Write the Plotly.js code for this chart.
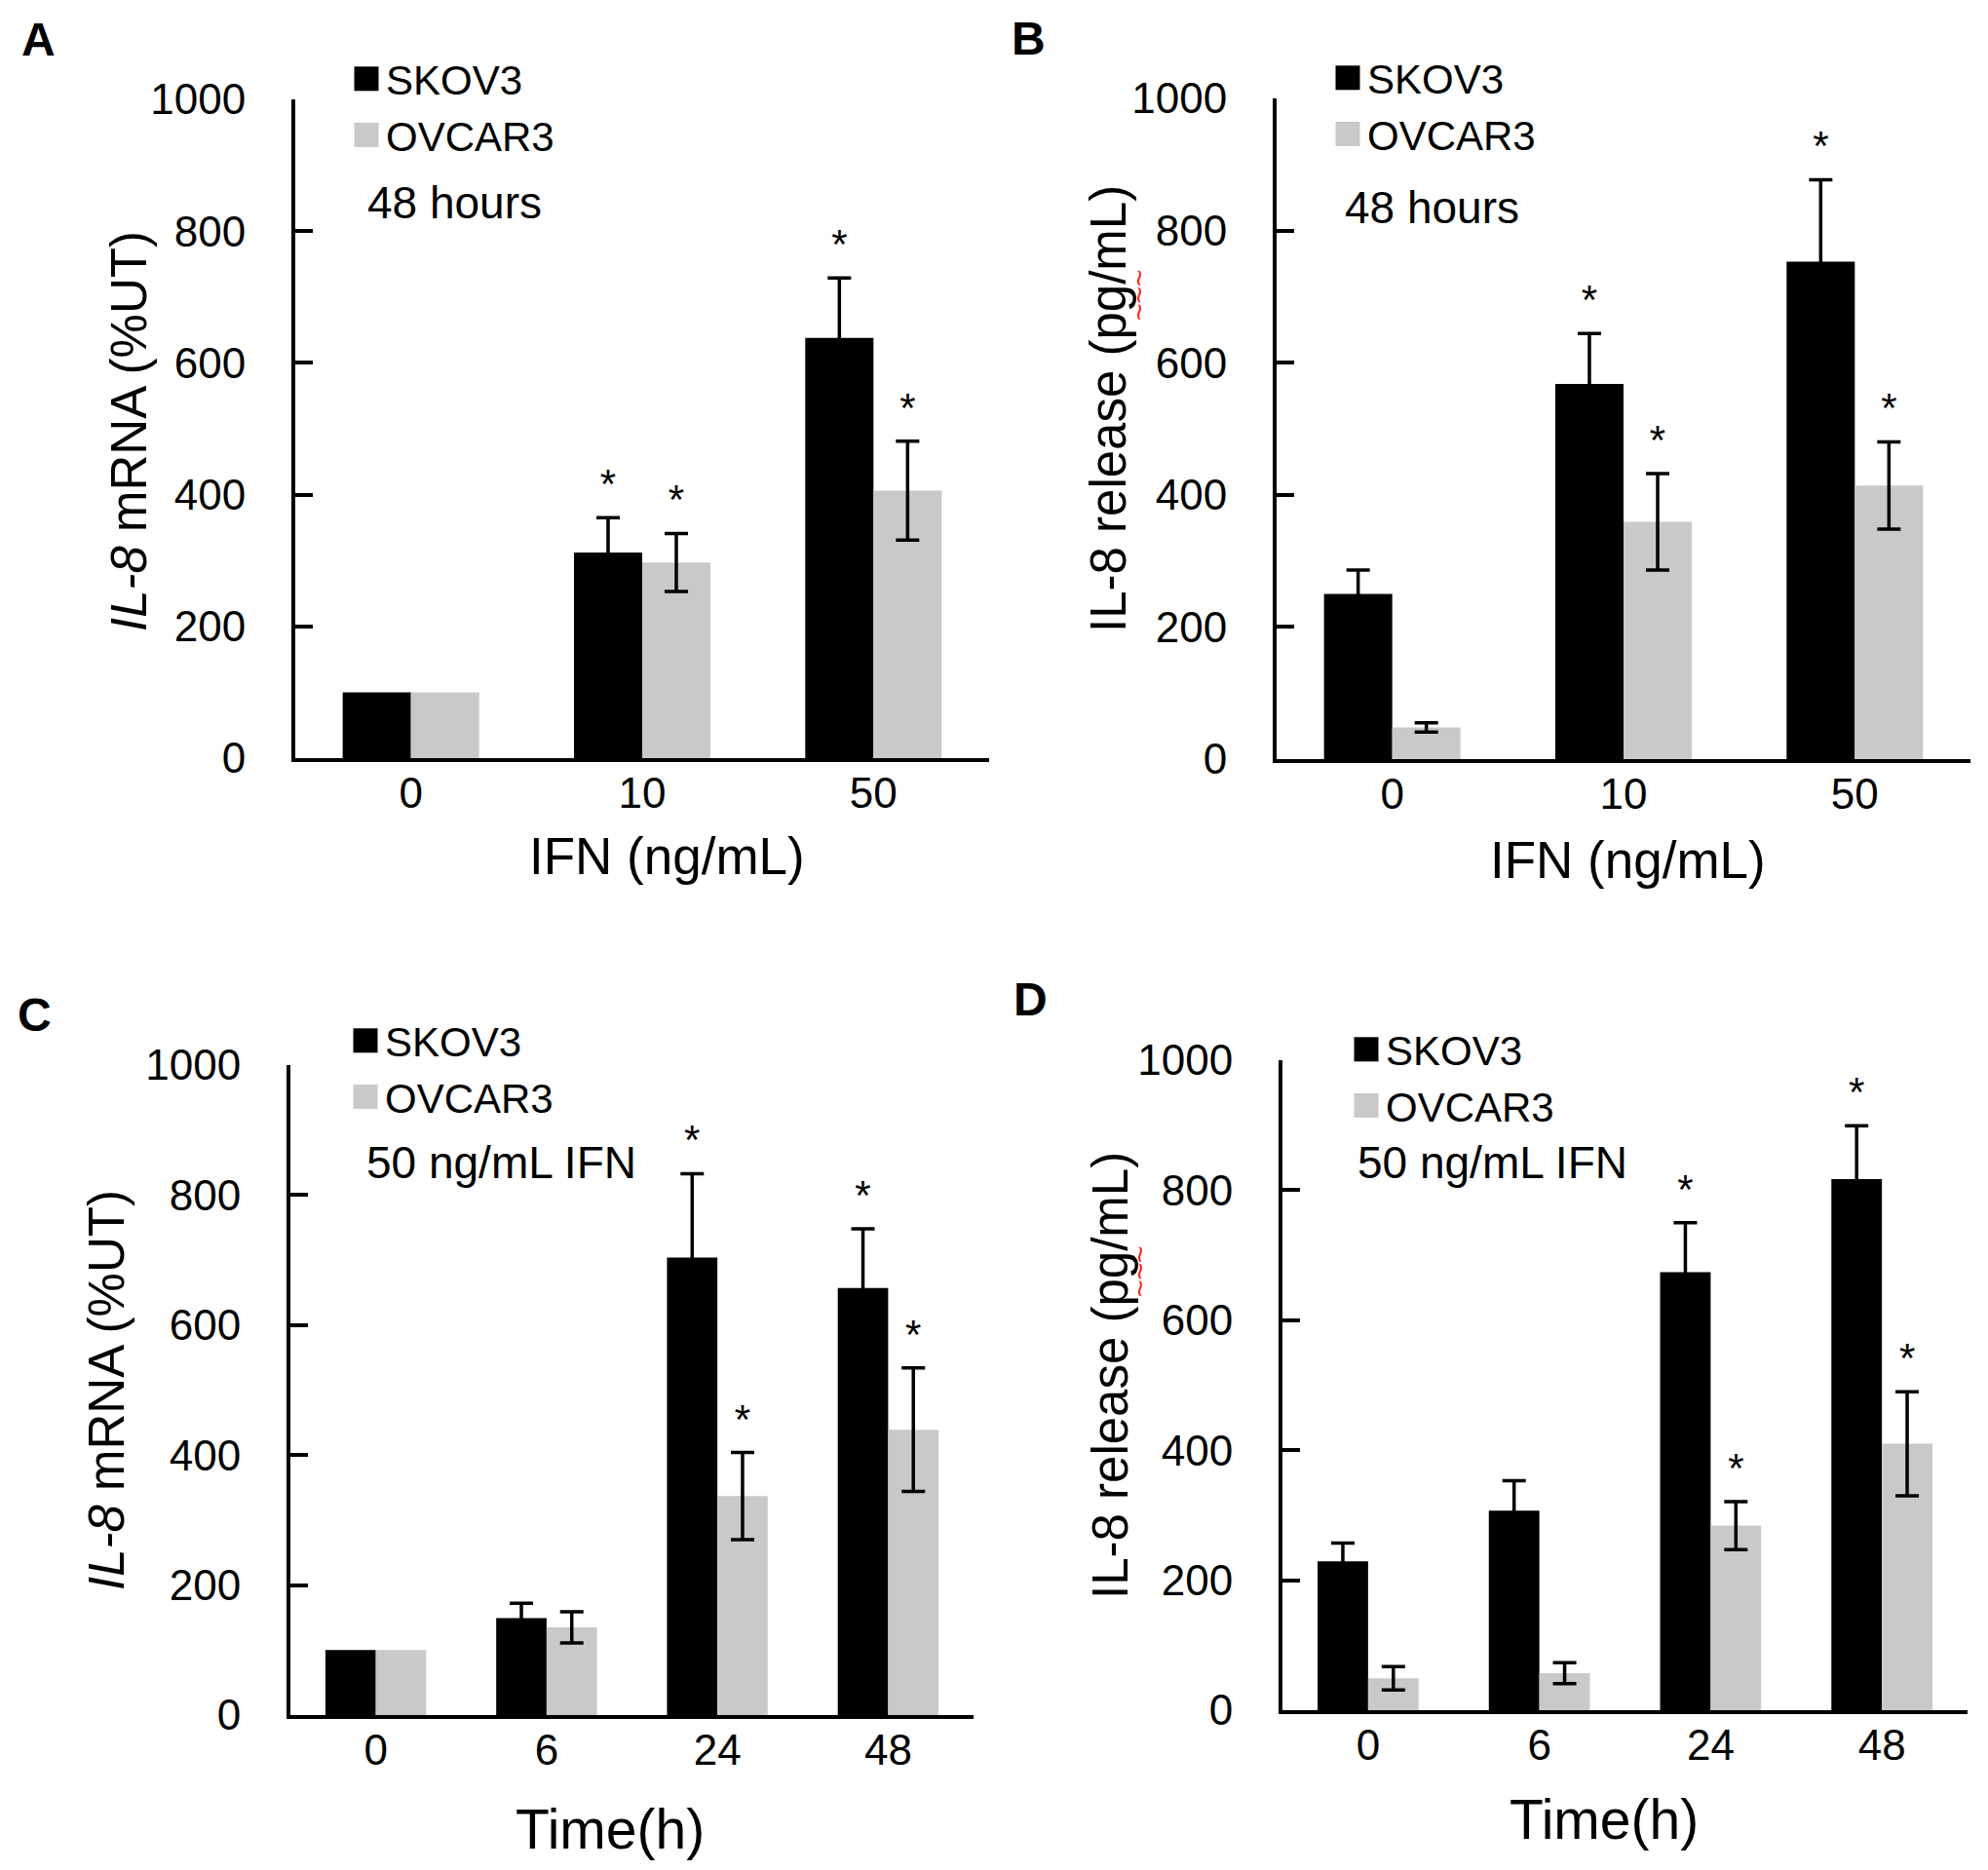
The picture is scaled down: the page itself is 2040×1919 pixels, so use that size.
<!DOCTYPE html>
<html><head><meta charset="utf-8">
<script src="https://cdn.plot.ly/plotly-3.0.1.min.js"></script>
<style>
body{margin:0;background:#fff}
#chart{width:2040px;height:1919px}
/* legend swatches drawn as the larger squares used in the figure */
#chart g.legendpoints path{d:path('M12.5,12.5H-12.5V-12.5H12.5Z');}
</style>
</head><body><div id="chart"></div>
<script>
// ---- data ----
const doseCats = ['0', '10', '50'];
const timeCats = ['0', '6', '24', '48'];
const seriesNames = ['SKOV3', 'OVCAR3'];
const yTicks = [0, 200, 400, 600, 800, 1000];

// Panel A: IL-8 mRNA (%UT), 48 hours, by IFN dose
const aSkov = [100, 312, 638];
const aSkovErr = [null, 53, 91];
const aOvcar = [100, 297, 406];
const aOvcarErr = [null, 44, 75];
const aSkovSig = [false, true, true];
const aOvcarSig = [false, true, true];

// Panel B: IL-8 release (pg/mL), 48 hours, by IFN dose
const bSkov = [250, 568, 753];
const bSkovErr = [36, 76, 124];
const bOvcar = [48, 359, 414];
const bOvcarErr = [7, 73, 66];
const bSkovSig = [false, true, true];
const bOvcarSig = [false, true, true];

// Panel C: IL-8 mRNA (%UT), 50 ng/mL IFN, by time
const cSkov = [100, 149, 704, 657];
const cSkovErr = [null, 23, 129, 91];
const cOvcar = [100, 135, 337, 439];
const cOvcarErr = [null, 24, 67, 95];
const cSkovSig = [false, false, true, true];
const cOvcarSig = [false, false, true, true];

// Panel D: IL-8 release (pg/mL), 50 ng/mL IFN, by time
const dSkov = [229, 307, 674, 817];
const dSkovErr = [28, 46, 76, 82];
const dOvcar = [49, 57, 284, 410];
const dOvcarErr = [18, 16, 37, 80];
const dSkovSig = [false, false, true, true];
const dOvcarSig = [false, false, true, true];

// ---- styling ----
const FONT = 'Liberation Sans, Arial, sans-serif';
const COLORS = ['#000000', '#c9c9c9'];
const STAR_GAP = 12; // gap (data units) between error-bar top and asterisk box
const W = 2040, H = 1919;
const px = v => v / W;
const py = v => 1 - v / H;

function panelTraces(cats, series, xa, ya, legendId) {
  const traces = [];
  series.forEach((s, k) => {
    traces.push({
      type: 'bar', x: cats, y: s.vals, name: seriesNames[k],
      marker: {color: COLORS[k], line: {width: 0}},
      error_y: {type: 'data', array: s.errs.map(e => e == null ? NaN : e), visible: true,
                color: '#000', thickness: 3.5, width: 12},
      xaxis: xa, yaxis: ya, offsetgroup: 'g' + k, legend: legendId,
      cliponaxis: false, hoverinfo: 'x+y'
    });
  });
  series.forEach((s, k) => {
    traces.push({
      type: 'bar', x: cats, y: s.vals.map((v, i) => v + (s.errs[i] || 0) + STAR_GAP),
      text: s.sig.map(f => f ? '*' : ''), textposition: 'outside',
      textfont: {size: 42, color: '#000', family: FONT}, constraintext: 'none',
      marker: {color: 'rgba(0,0,0,0)', line: {width: 0}},
      xaxis: xa, yaxis: ya, offsetgroup: 'g' + k, showlegend: false,
      hoverinfo: 'skip', cliponaxis: false
    });
  });
  return traces;
}

const data = [].concat(
  panelTraces(doseCats, [{vals: aSkov, errs: aSkovErr, sig: aSkovSig}, {vals: aOvcar, errs: aOvcarErr, sig: aOvcarSig}], 'x', 'y', 'legend'),
  panelTraces(doseCats, [{vals: bSkov, errs: bSkovErr, sig: bSkovSig}, {vals: bOvcar, errs: bOvcarErr, sig: bOvcarSig}], 'x2', 'y2', 'legend2'),
  panelTraces(timeCats, [{vals: cSkov, errs: cSkovErr, sig: cSkovSig}, {vals: cOvcar, errs: cOvcarErr, sig: cOvcarSig}], 'x3', 'y3', 'legend3'),
  panelTraces(timeCats, [{vals: dSkov, errs: dSkovErr, sig: dSkovSig}, {vals: dOvcar, errs: dOvcarErr, sig: dOvcarSig}], 'x4', 'y4', 'legend4')
);

function xAxis(x0, x1, anchor, n) {
  return {domain: [px(x0), px(x1)], anchor: anchor, type: 'category', range: [-0.5, n - 0.5],
    showline: true, linewidth: 4, linecolor: '#000', ticks: '', showgrid: false, zeroline: false,
    tickfont: {size: 44, color: '#000', family: FONT}, ticklabelstandoff: -6, fixedrange: true};
}
function yAxis(top, bottom, anchor) {
  return {domain: [py(bottom), py(top)], anchor: anchor, range: [0, 1000], tickvals: yTicks,
    ticks: 'inside', ticklen: 18, tickwidth: 4, tickcolor: '#000',
    showline: true, linewidth: 4, linecolor: '#000', showgrid: false, zeroline: false,
    tickfont: {size: 44, color: '#000', family: FONT}, ticklabelstandoff: 38, fixedrange: true};
}
function legendAt(x, y) {
  return {x: px(x), y: py(y), xanchor: 'left', yanchor: 'top', font: {size: 42, color: '#000', family: FONT},
    bgcolor: 'rgba(0,0,0,0)', traceorder: 'normal', itemclick: false, itemdoubleclick: false};
}
function note(text, x, y, opts) {
  return Object.assign({text: text, x: px(x), y: py(y), xref: 'paper', yref: 'paper', showarrow: false,
    font: {size: 46, color: '#000', family: FONT}, xanchor: 'left', yanchor: 'middle'}, opts || {});
}
const titleFont = s => ({size: s, color: '#000', family: FONT});

const layout = {
  width: W, height: H, margin: {l: 0, r: 0, t: 0, b: 0},
  paper_bgcolor: '#fff', plot_bgcolor: 'rgba(0,0,0,0)',
  font: {family: FONT, color: '#000'},
  barmode: 'group', bargap: 0.41, bargroupgap: 0,
  xaxis: xAxis(303, 1015, 'y', doseCats.length),
  yaxis: yAxis(102, 778, 'x'),
  xaxis2: xAxis(1310, 2022, 'y2', doseCats.length),
  yaxis2: yAxis(101, 779, 'x2'),
  xaxis3: xAxis(298, 999, 'y3', timeCats.length),
  yaxis3: yAxis(1093, 1760, 'x3'),
  xaxis4: xAxis(1316, 2019, 'y4', timeCats.length),
  yaxis4: yAxis(1088, 1755, 'x4'),
  legend: legendAt(356, 47),
  legend2: legendAt(1363, 46),
  legend3: legendAt(355, 1034),
  legend4: legendAt(1382, 1043),
  annotations: [
    note('<b>A</b>', 20, 41, {font: titleFont(48)}),
    note('<b>B</b>', 1036, 39, {font: titleFont(48)}),
    note('<b>C</b>', 16, 1041, {font: titleFont(48)}),
    note('<b>D</b>', 1038, 1025, {font: titleFont(48)}),
    note('48 hours', 375, 208),
    note('48 hours', 1378, 213),
    note('50 ng/mL IFN', 374, 1193),
    note('50 ng/mL IFN', 1391, 1193),
    note('IFN (ng/mL)', 684, 878, {xanchor: 'center', font: titleFont(53)}),
    note('IFN (ng/mL)', 1670, 882, {xanchor: 'center', font: titleFont(53)}),
    note('Time(h)', 626, 1877, {xanchor: 'center', font: titleFont(57)}),
    note('Time(h)', 1646, 1867, {xanchor: 'center', font: titleFont(57)}),
    note('<i>IL-8</i> mRNA (%UT)', 132, 443, {xanchor: 'center', textangle: -90, font: titleFont(51)}),
    note('IL-8 release (pg/mL)', 1138, 420, {xanchor: 'center', textangle: -90, font: titleFont(51)}),
    note('<i>IL-8</i> mRNA (%UT)', 109, 1427, {xanchor: 'center', textangle: -90, font: titleFont(51)}),
    note('IL-8 release (pg/mL)', 1139, 1412, {xanchor: 'center', textangle: -90, font: titleFont(51)}),
    note('~~~', 1168, 303, {xanchor: 'center', textangle: -90, font: {size: 30, color: '#ff2020', family: FONT}}),
    note('~~~', 1169, 1305, {xanchor: 'center', textangle: -90, font: {size: 30, color: '#ff2020', family: FONT}})
  ]
};

function bigSwatches() {
  document.querySelectorAll('#chart g.legendpoints path').forEach(p => p.setAttribute('d', 'M12.5,12.5H-12.5V-12.5H12.5Z'));
}
Plotly.newPlot('chart', data, layout, {staticPlot: true, displayModeBar: false}).then(gd => {
  bigSwatches();
  gd.on('plotly_afterplot', bigSwatches);
  setTimeout(bigSwatches, 30);
});
</script>
</body></html>
